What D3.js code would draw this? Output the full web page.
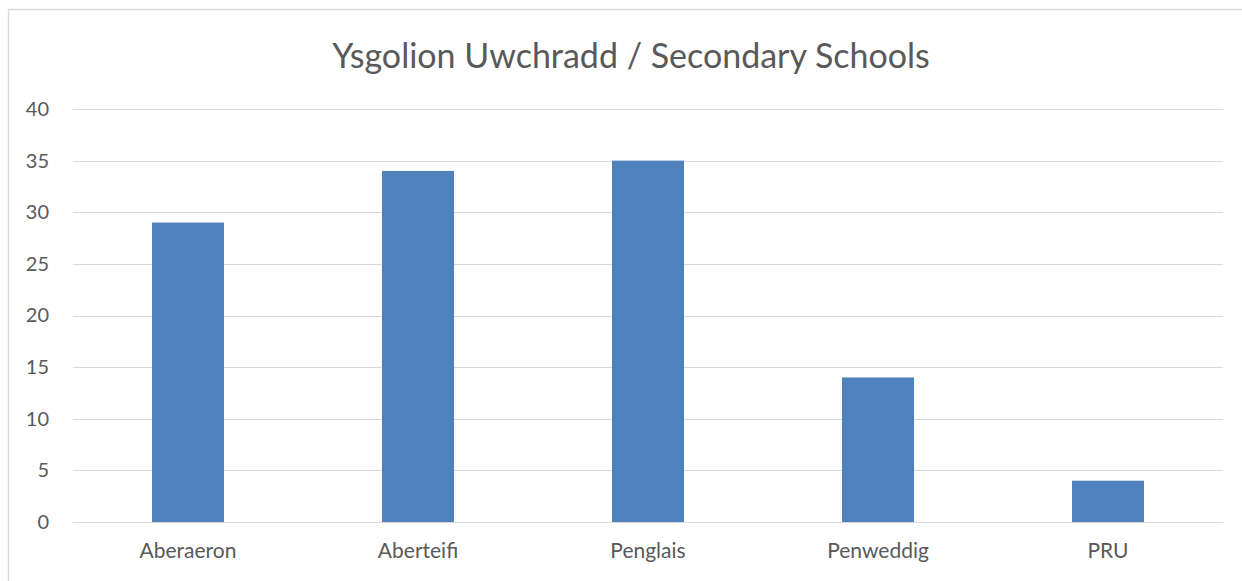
<!DOCTYPE html>
<html>
<head>
<meta charset="utf-8">
<script src="https://cdn.jsdelivr.net/npm/d3@7"></script>
<style>
  body { margin: 0; background: #fff; }
  text { font-family: Lato, "Open Sans", sans-serif; fill: #595959; }
</style>
</head>
<body>
<div id="chart"></div>
<script>
'use strict';

var schools = ['Aberaeron', 'Aberteifi', 'Penglais', 'Penweddig', 'PRU'];
var pupils = [29, 34, 35, 14, 4];
var yTicks = [0, 5, 10, 15, 20, 25, 30, 35, 40];
var title = 'Ysgolion Uwchradd / Secondary Schools';

var width = 1242, height = 581;
var margin = { left: 73, right: 19, top: 109, bottom: 59 };

var svg = d3.select('#chart').append('svg')
  .attr('width', width)
  .attr('height', height);

// chart frame (runs off the right and bottom edges)
svg.append('rect')
  .attr('x', 8.5).attr('y', 9.5)
  .attr('width', 1260).attr('height', 600)
  .attr('fill', 'none')
  .attr('stroke', '#d9d9d9')
  .attr('stroke-width', 1.5);

var x = d3.scaleBand()
  .domain(schools)
  .range([margin.left, width - margin.right])
  .paddingInner(0.687)
  .paddingOuter(0.3435);

var y = d3.scaleLinear()
  .domain([0, 40])
  .range([height - margin.bottom, margin.top]);

// gridlines
svg.append('g')
  .selectAll('line')
  .data(yTicks)
  .enter()
  .append('line')
  .attr('x1', margin.left)
  .attr('x2', width - margin.right)
  .attr('y1', function(d) { return Math.round(y(d)) + 0.5; })
  .attr('y2', function(d) { return Math.round(y(d)) + 0.5; })
  .attr('stroke', '#d9d9d9')
  .attr('stroke-width', 1.2);

// bars
svg.append('g')
  .selectAll('rect')
  .data(pupils)
  .enter()
  .append('rect')
  .attr('x', function(d, i) { return x(schools[i]); })
  .attr('y', function(d) { return y(d); })
  .attr('width', x.bandwidth())
  .attr('height', function(d) { return y(0) - y(d); })
  .attr('fill', '#4f81bd');

// y axis labels
var yAxis = d3.axisLeft(y).tickValues(yTicks).tickSize(0).tickPadding(24);
var gy = svg.append('g')
  .attr('transform', 'translate(' + margin.left + ',0)')
  .call(yAxis);
gy.select('.domain').remove();
gy.selectAll('text')
  .style('font-size', '20px')
  .attr('fill', '#595959');

// x axis labels
var xAxis = d3.axisBottom(x).tickSize(0).tickPadding(21);
var gx = svg.append('g')
  .attr('transform', 'translate(0,' + y(0) + ')')
  .call(xAxis);
gx.select('.domain').remove();
gx.selectAll('text')
  .style('font-size', '21px')
  .attr('fill', '#595959');

// title
svg.append('text')
  .attr('x', 631)
  .attr('y', 68)
  .attr('text-anchor', 'middle')
  .style('font-size', '34px')
  .text(title);
</script>
</body>
</html>
